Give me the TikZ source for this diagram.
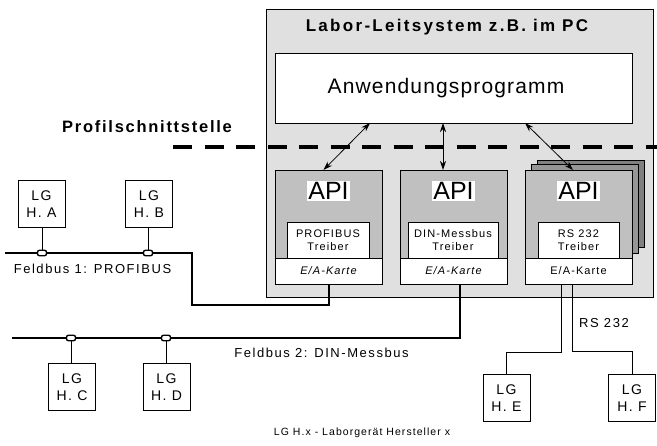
\documentclass[tikz,border=0pt]{standalone}
\usepackage{fontspec}
\setmainfont{Liberation Sans}[LetterSpace=10]
\newfontfamily\plainsans{Liberation Sans}
\newfontfamily\lblsans{Liberation Sans}[LetterSpace=12]
\newfontfamily\titlesans{Liberation Sans}[LetterSpace=13.5]
\newfontfamily\profsans{Liberation Sans}[LetterSpace=10.5]
\newfontfamily\appsans{Liberation Sans}[LetterSpace=5.5]
\usetikzlibrary{arrows.meta,calc}
\definecolor{bgc}{RGB}{224,224,224}
\definecolor{apic}{RGB}{192,192,192}
\definecolor{shadowa}{RGB}{128,128,128}
\definecolor{shadowb}{RGB}{150,150,150}
\begin{document}
\begin{tikzpicture}[x=1pt,y=-1pt,
  thin line/.style={line width=0.8pt},
  bus/.style={line width=2pt},
  corner box/.style={draw,thin line,anchor=north west,inner sep=0pt,outer sep=0pt},
  apibox/.style={corner box,fill=apic,minimum width=107pt,minimum height=114pt},
  eabox/.style={corner box,fill=white,minimum width=107pt,minimum height=26pt,font=\fontsize{11}{12}\selectfont},
  drvbox/.style={corner box,fill=white,minimum height=36pt,align=center,font=\fontsize{11}{13}\selectfont},
  apilabel/.style={fill=white,inner sep=1pt,font=\plainsans\fontsize{25}{25}\selectfont},
  lgbox/.style={draw,thin line,fill=white,minimum width=47pt,minimum height=47pt,inner sep=0pt,align=center,font=\fontsize{14}{17}\selectfont},
  tap/.style={draw,line width=1.4pt,fill=white,rounded corners=2pt,minimum width=9pt,minimum height=5.5pt,inner sep=0pt},
  lbl/.style={font=\lblsans\fontsize{13}{15}\selectfont},
  dual/.style={thin line,{Stealth[length=9pt,width=6pt]}-{Stealth[length=9pt,width=6pt]}}
]
\useasboundingbox (0,0) rectangle (657,446);
% outer system box
\node[corner box,fill=bgc,minimum width=387pt,minimum height=288pt] (sys) at (266,9) {};
\node[font=\titlesans\bfseries\fontsize{17}{19}\selectfont] (title) at (447,27) {Labor-Leitsystem z.B. im PC};
% application
\node[corner box,fill=white,minimum width=357pt,minimum height=70pt] (app) at (275,53) {};
\node[font=\appsans\fontsize{21}{23}\selectfont] (apptext) at (446,88) {Anwendungsprogramm};
% shadow boxes behind third stack
\node[corner box,fill=shadowa,minimum width=107pt,minimum height=87pt] (sh2) at (537,160) {};
\node[corner box,fill=shadowb,minimum width=107pt,minimum height=89pt] (sh1) at (531,164) {};
% API boxes
\node[apibox] (b1) at (275,170) {};
\node[apibox] (b2) at (400,170) {};
\node[apibox] (b3) at (525,170) {};
\node[apilabel] (api1) at (328.5,191) {API};
\node[apilabel] (api2) at (453.5,191) {API};
\node[apilabel] (api3) at (578.5,191) {API};
\node[drvbox,minimum width=82pt] (d1) at (287,222) {PROFIBUS\\Treiber};
\node[drvbox,minimum width=90pt] (d2) at (408,222) {DIN-Messbus\\Treiber};
\node[drvbox,minimum width=81pt] (d3) at (538,222) {RS 232\\Treiber};
\node[eabox] (ea1) at (275,258) {\itshape E/A-Karte};
\node[eabox] (ea2) at (400,258) {\itshape E/A-Karte};
\node[eabox] (ea3) at (525,258) {E/A-Karte};
% arrows
\draw[dual] ([xshift=95pt]app.south west) -- ([xshift=-5pt]b1.north);
\draw[dual] ([xshift=168pt]app.south west) -- ([xshift=-10.5pt]b2.north);
\draw[dual] ([xshift=250pt]app.south west) -- ([xshift=-5.5pt]b3.north);
% interface line
\node[font=\profsans\bfseries\fontsize{16.5}{18}\selectfont] (prof) at (147,127) {Profilschnittstelle};
\coordinate (dashL) at (173,147);
\coordinate (dashR) at (657,147);
\draw[line width=3.5pt,dash pattern=on 19pt off 12.5pt] (dashL) -- (dashR);
% field bus 1
\coordinate (f1a) at (192,305);
\coordinate (f1end) at (5,253);
\draw[bus] (ea1.south) |- (f1a) |- (f1end);
\node[lgbox] (A) at (41.5,204) {LG\\H. A};
\node[lgbox] (B) at (149,204) {LG\\H. B};
\node[tap] (tA) at (42,253) {};
\node[tap] (tB) at (148,253) {};
\draw[thin line] (A.south -| tA) -- (tA);
\draw[thin line] (B.south -| tB) -- (tB);
\node[lbl] (fb1) at (92.5,269) {Feldbus 1: PROFIBUS};
% field bus 2
\coordinate (f2end) at (12,338);
\draw[bus] ([xshift=6pt]ea2.south) |- (f2end);
\node[lgbox] (C) at (72,387) {LG\\H. C};
\node[lgbox] (D) at (166.5,387) {LG\\H. D};
\node[tap] (tC) at (71,338) {};
\node[tap] (tD) at (166,338) {};
\draw[thin line] (C.north -| tC) -- (tC);
\draw[thin line] (D.north -| tD) -- (tD);
\node[lbl] (fb2) at (321.5,353) {Feldbus 2: DIN-Messbus};
% RS 232
\node[lgbox] (E) at (506.5,398) {LG\\H. E};
\node[lgbox] (F) at (632,398) {LG\\H. F};
\coordinate (rse) at (506.5,352);
\coordinate (rsf) at (632,351);
\draw[thin line] ([xshift=-17.5pt]ea3.south) |- (rse) -- (E.north);
\draw[thin line] ([xshift=-6.5pt]ea3.south) |- (rsf) -- (F.north);
\node[lbl] (rs) at (604,323) {RS 232};
% footnote
\node[font=\fontsize{10.5}{12}\selectfont] (note) at (362,433) {LG H.x - Laborgerät Hersteller x};
\end{tikzpicture}
\end{document}
